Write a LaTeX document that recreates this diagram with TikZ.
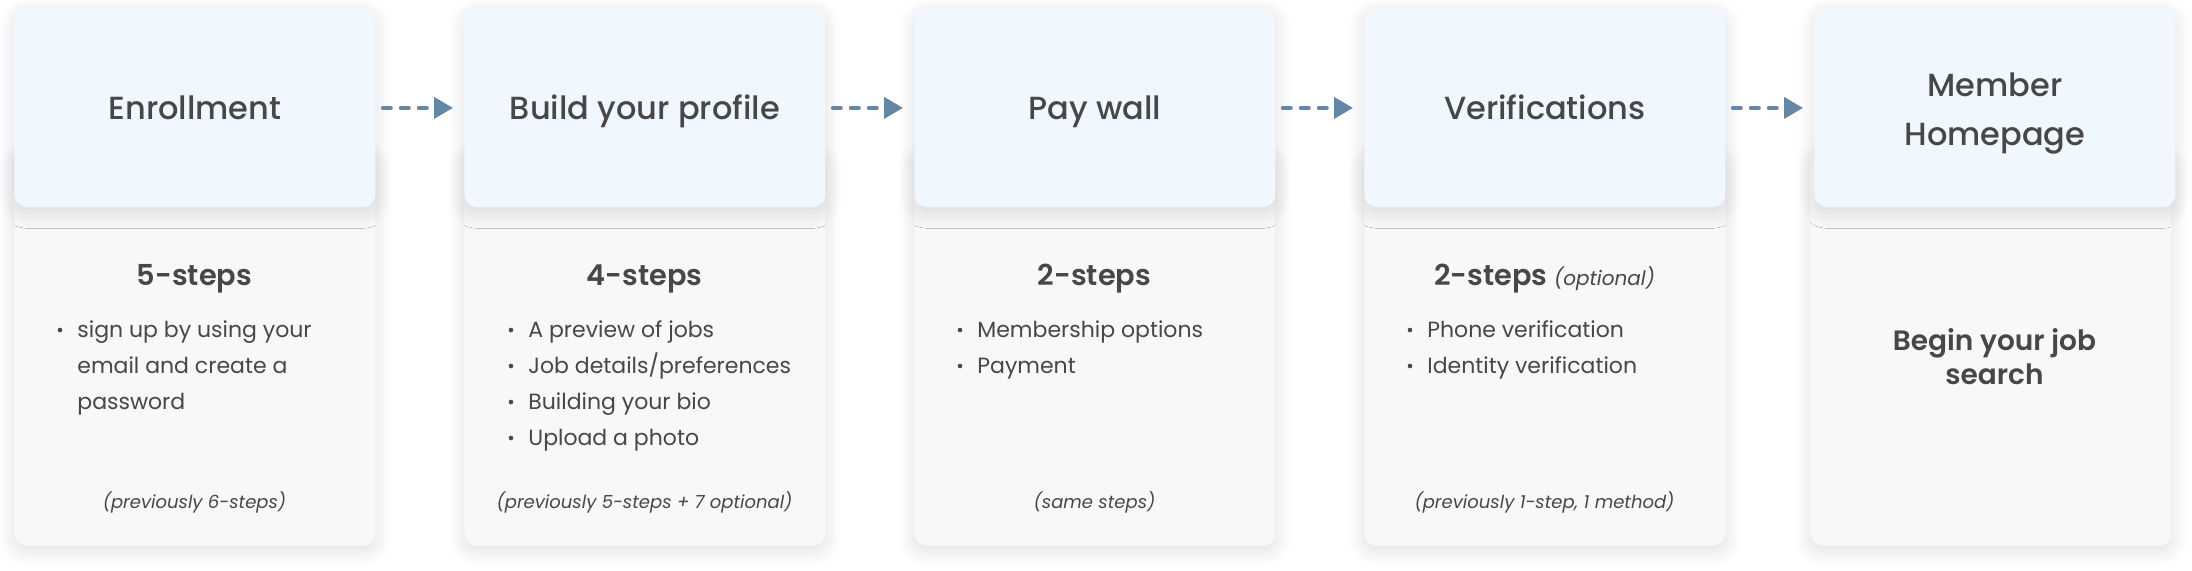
\documentclass[tikz,border=0pt]{standalone}
\usepackage{fontspec}
\setmainfont{Poppins}
\IfFontExistsTF{Poppins SemiBold}{\newfontfamily\semib{Poppins SemiBold}}{\newcommand\semib{\bfseries}}
\IfFontExistsTF{Poppins Medium}{\newfontfamily\medf{Poppins Medium}}{\newcommand\medf{\normalfont}}
\usetikzlibrary{shadows.blur,arrows.meta}
\definecolor{hdr}{HTML}{F0F7FE}
\definecolor{bodyc}{HTML}{F8F8F8}
\definecolor{ink}{HTML}{474747}
\definecolor{arr}{HTML}{6487A8}
\begin{document}
\begin{tikzpicture}[x=0.5pt,y=-0.5pt,
  cardshadow/.style={blur shadow={shadow xshift=0pt,shadow yshift=-2.5pt,shadow blur radius=8pt,shadow blur steps=14,shadow opacity=13}},
  bodycard/.style={fill=bodyc,rounded corners=6pt,minimum width=180.5pt,minimum height=197.5pt,inner sep=0pt,anchor=south west,cardshadow},
  hdrcard/.style={fill=hdr,rounded corners=6.5pt,minimum width=180.5pt,minimum height=99.5pt,inner sep=0pt,anchor=north west,cardshadow},
  title/.style={inner sep=0pt,text=ink,font=\fontsize{16pt}{24.5pt}\medf,align=center,text height=11.2pt,text depth=0pt},
  heading/.style={inner sep=0pt,text=ink,font=\fontsize{14.4pt}{17pt}\semib,text height=10pt,text depth=0pt},
  item/.style={inner sep=0pt,text=ink,font=\fontsize{11pt}{18pt}\selectfont,text height=7.6pt,text depth=0pt,anchor=west},
  dot/.style={circle,fill=ink,inner sep=0pt,minimum size=2.3pt},
  note/.style={inner sep=0pt,text=ink,font=\fontsize{9pt}{11pt}\itshape,text height=6.3pt,text depth=0pt},
  flow/.style={draw=arr,line width=2pt,dash pattern=on 4pt off 5pt,line cap=round,shorten <=3.5pt,shorten >=5.5pt,-{Triangle[length=9.5pt,width=10.5pt,line cap=butt]}}
]
\useasboundingbox (0,0) rectangle (2192,570);
% cards
\foreach \i/\x in {1/14,2/464,3/914,4/1364,5/1810}{
  \node[bodycard] (b\i) at (\x,546) {};
}
\foreach \i/\x in {1/14,2/464,3/914,4/1364,5/1814}{
  \node[hdrcard] (h\i) at (\x,8) {};
}
% titles
\node[title] (t1) at (h1.center) {Enrollment};
\node[title] (t2) at (h2.center) {Build your profile};
\node[title] (t3) at (h3.center) {Pay wall};
\node[title] (t4) at (h4.center) {Verifications};
\node[title,text height=,text depth=] (t5) at ([yshift=-3pt]h5.center) {Member\\Homepage};
% headings
\node[heading] (s1) at (194.5,275) {5-steps};
\node[heading] (s2) at (644.5,275) {4-steps};
\node[heading] (s3) at (1094.5,275) {2-steps};
\node[heading] (s4) at (1544.5,275) {2-steps {\fontsize{10pt}{11pt}\normalfont\itshape(optional)}};
\node[heading,font=\fontsize{14pt}{17pt}\semib,align=center,text height=,text depth=] (s5) at (1994.5,357) {Begin your job\\search};
% card 1 items
\node[dot] (d11) at (60,330) {};
\node[item] (i11) at (77,330) {sign up by using your};
\node[item] (i12) at (77,366) {email and create a};
\node[item] (i13) at (77,402) {password};
% card 2 items
\foreach \k/\y/\t in {1/330/A preview of jobs,2/366/Job details\slash preferences,3/402/Building your bio,4/438/Upload a photo}{
  \node[dot] (d2\k) at (511,\y) {};
  \node[item] (i2\k) at (528,\y) {\t};
}
% card 3 items
\foreach \k/\y/\t in {1/330/Membership options,2/366/Payment}{
  \node[dot] (d3\k) at (960,\y) {};
  \node[item] (i3\k) at (977,\y) {\t};
}
% card 4 items
\foreach \k/\y/\t in {1/330/Phone verification,2/366/Identity verification}{
  \node[dot] (d4\k) at (1410,\y) {};
  \node[item] (i4\k) at (1427,\y) {\t};
}
% notes
\node[note] (n1) at (194.5,502) {(previously 6-steps)};
\node[note] (n2) at (644.5,502) {(previously 5-steps + 7 optional)};
\node[note] (n3) at (1094.5,502) {(same steps)};
\node[note] (n4) at (1544.5,502) {(previously 1-step, 1 method)};
% arrows
\draw[flow] (h1.east) -- (h2.west);
\draw[flow] (h2.east) -- (h3.west);
\draw[flow] (h3.east) -- (h4.west);
\draw[flow] (h4.east) -- (h5.west);
\end{tikzpicture}
\end{document}
